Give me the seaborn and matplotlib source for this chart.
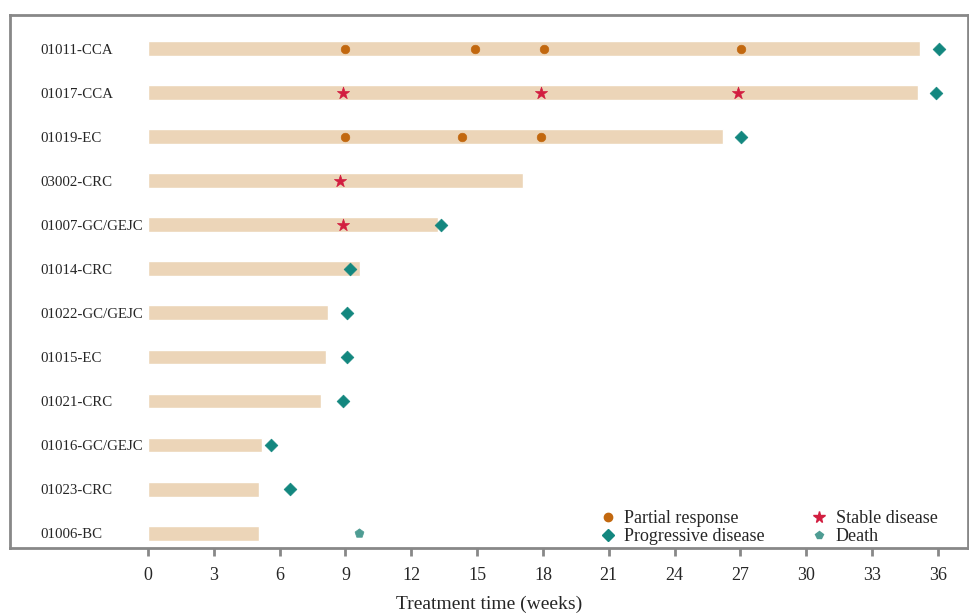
import pandas as pd
import matplotlib
matplotlib.use("Agg")
import matplotlib.pyplot as plt
import seaborn as sns
from matplotlib.lines import Line2D

# Patients and treatment duration (weeks)
patients = ["01011-CCA", "01017-CCA", "01019-EC", "03002-CRC", "01007-GC/GEJC",
            "01014-CRC", "01022-GC/GEJC", "01015-EC", "01021-CRC",
            "01016-GC/GEJC", "01023-CRC", "01006-BC"]
durations = [35.2, 35.1, 26.2, 17.1, 13.2, 9.65, 8.2, 8.1, 7.9, 5.2, 5.05, 5.05]

# Response events
pr_patients = ["01011-CCA", "01011-CCA", "01011-CCA", "01011-CCA",
               "01019-EC", "01019-EC", "01019-EC"]
pr_weeks = [9.0, 14.9, 18.05, 27.05, 9.0, 14.3, 17.9]

sd_patients = ["01017-CCA", "01017-CCA", "01017-CCA", "03002-CRC", "01007-GC/GEJC"]
sd_weeks = [8.9, 17.9, 26.9, 8.75, 8.9]

pd_patients = ["01011-CCA", "01017-CCA", "01019-EC", "01007-GC/GEJC", "01014-CRC",
               "01022-GC/GEJC", "01015-EC", "01021-CRC", "01016-GC/GEJC", "01023-CRC"]
pd_weeks = [36.05, 35.9, 27.05, 13.35, 9.2, 9.05, 9.05, 8.9, 5.6, 6.45]

death_patients = ["01006-BC"]
death_weeks = [9.6]

bars = pd.DataFrame({"patient": patients, "weeks": durations})

sns.set_style("white")
plt.rcParams["font.family"] = ["Liberation Serif", "DejaVu Serif"]

fig = plt.figure(figsize=(9.7, 6.13), dpi=100)
ax = fig.add_axes([10 / 970, 1 - 548 / 613, 958 / 970, 533 / 613])

sns.barplot(data=bars, x="weeks", y="patient", orient="h", color="#ecd5b8",
            width=0.34, ax=ax, saturation=1)

order = {p: i for i, p in enumerate(patients)}

def draw(pts, wks, marker, color, size):
    df = pd.DataFrame({"weeks": wks, "pos": [order[p] for p in pts]})
    sns.scatterplot(data=df, x="weeks", y="pos", marker=marker, color=color,
                    s=size, edgecolor=color, linewidth=0.5, ax=ax, zorder=5)

draw(pr_patients, pr_weeks, "o", "#c2680f", 38)
draw(sd_patients, sd_weeks, "*", "#d21e40", 85)
draw(pd_patients, pd_weeks, "D", "#13877f", 42)
draw(death_patients, death_weeks, "p", "#4e9c93", 45)

ax.set_xlim((10 - 148) / 21.94, (968 - 148) / 21.94)
ax.set_ylim(11.34, -0.77)
ax.set_xticks(range(0, 37, 3))
ax.tick_params(axis="x", bottom=True, direction="out", length=6, width=2,
               color="#888888", labelsize=13, pad=8)
ax.set_yticks(range(len(patients)))
ax.set_yticklabels(patients, ha="left")
ax.tick_params(axis="y", left=False, length=0, labelsize=10.7, pad=-22)
ax.set_xlabel("Treatment time (weeks)", fontsize=14, labelpad=8)
ax.set_ylabel("")

for sp in ax.spines.values():
    sp.set_visible(True)
    sp.set_color("#888888")
    sp.set_linewidth(2.0)

handles = [
    Line2D([], [], linestyle="", marker="o", color="#c2680f", markersize=6),
    Line2D([], [], linestyle="", marker="D", color="#13877f", markersize=6),
    Line2D([], [], linestyle="", marker="*", color="#d21e40", markersize=8.5),
    Line2D([], [], linestyle="", marker="p", color="#4e9c93", markersize=6),
]
labels = ["Partial response", "Progressive disease", "Stable disease", "Death"]
ax.legend(handles, labels, ncol=2, frameon=False, fontsize=13,
          loc="lower right", bbox_to_anchor=(0.985, -0.025),
          handletextpad=0.3, columnspacing=2.4, labelspacing=0.05,
          handlelength=1.2)

fig.savefig("out.png", dpi=100)
